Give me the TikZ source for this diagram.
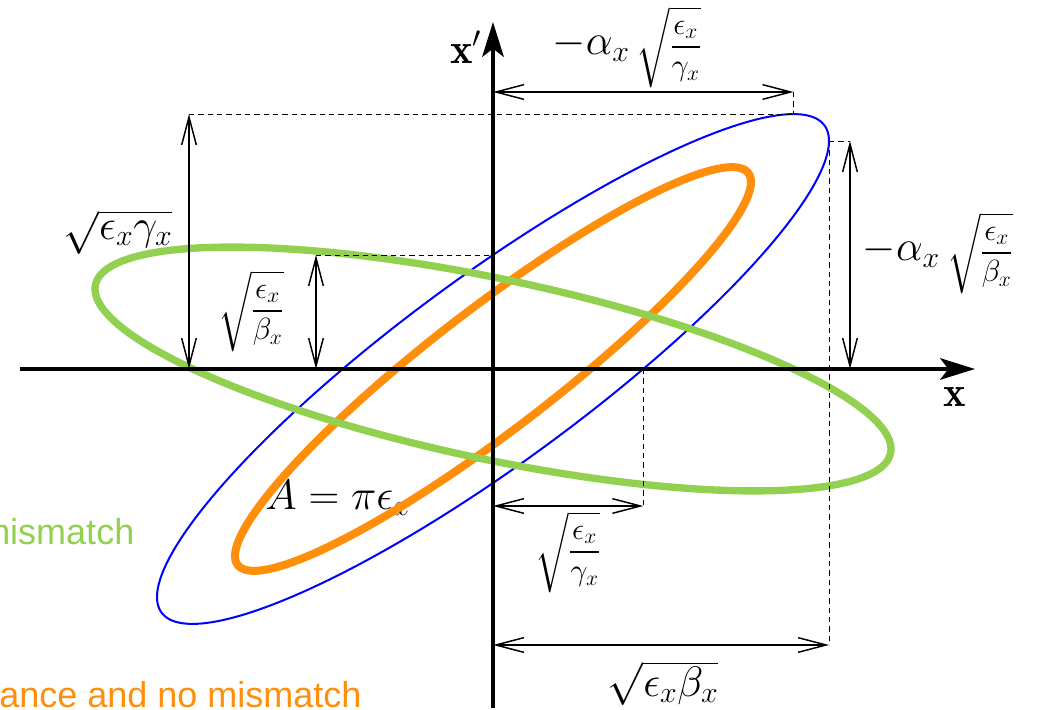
\RequirePackage{fix-cm}
\documentclass[tikz,border=0pt]{standalone}
\usepackage{amsmath}
\usepackage{fontspec}
\newfontfamily\notefont{Liberation Sans}
\usetikzlibrary{arrows.meta,positioning}
\definecolor{blueE}{RGB}{0,0,255}
\definecolor{orangeE}{RGB}{255,143,10}
\definecolor{greenE}{RGB}{146,208,80}
\newcommand{\rootfrac}[2]{\sqrt{\mbox{\fontsize{23}{28}\selectfont$\displaystyle\frac{#1}{#2}$}}}
\begin{document}
\begin{tikzpicture}[x=0.75pt,y=0.75pt,
  axis/.style={line width=3.4pt,-{Stealth[length=26pt,width=16pt,inset=6pt]}},
  dim/.style={line width=1.1pt,{Straight Barb[length=21pt,width=11pt]}-{Straight Barb[length=21pt,width=11pt]}},
  guide/.style={line width=0.7pt,dash pattern=on 4pt off 3pt},
  lbl/.style={font=\fontsize{32}{38}\selectfont,inner sep=0pt},
  note/.style={font=\notefont\fontsize{27}{32}\selectfont,inner sep=0pt,anchor=west}]
\useasboundingbox (-493,-341) rectangle (550,369);

\node[note,text=greenE] (mis) at (-513,-163) {mismatch};
\node[note,text=orangeE] (nomis) at (-494,-326) {ance and no mismatch};
\node[lbl] (area) at (-155,-129) {$A=\pi\epsilon_x$};

\draw[blueE,line width=1.5pt] plot[domain=0:357,samples=120,smooth cycle,variable=\t]
  ({336*cos(\t)},{114*(2*cos(\t)-sin(\t))});
\draw[orangeE,line width=6pt] plot[domain=0:357,samples=120,smooth cycle,variable=\t]
  ({258*cos(\t)},{187*cos(\t)-76*sin(\t)});
\draw[greenE,line width=5.5pt] plot[domain=0:357,samples=120,smooth cycle,variable=\t]
  ({398*cos(\t)},{-80*cos(\t)+92*sin(\t)});

\coordinate (O) at (0,0);
\coordinate (xL) at (-473,0);
\coordinate (xR) at (482,0);
\coordinate (yB) at (0,-339);
\coordinate (yT) at (0,347);
\coordinate (top) at (300.5,254.9);
\coordinate (right) at (336,228);
\coordinate (xcut) at (150.3,0);
\coordinate (ycut) at (0,114);
\coordinate (topA) at (0,277);
\coordinate (topB) at (300.5,277);
\coordinate (leftA) at (-304,254.9);
\coordinate (leftB) at (-304,0);
\coordinate (innA) at (-177,114);
\coordinate (innB) at (-177,0);
\coordinate (rgtA) at (357,228);
\coordinate (rgtB) at (357,0);
\coordinate (botA) at (0,-137);
\coordinate (botB) at (150.3,-137);
\coordinate (lowA) at (0,-276);
\coordinate (lowB) at (336,-276);

\draw[axis] (xL)--(xR);
\draw[axis] (yB)--(yT);
\node[lbl] (xlab) at (462,-28) {$\mathbf{x}$};
\node[lbl] (ylab) at (-27,322) {$\mathbf{x}'$};

\draw[guide] (leftA)--(top);
\draw[guide] (topB)--(top);
\draw[guide] (right)--(rgtA);
\draw[guide] (right)--(lowB);
\draw[guide] (innA)--(ycut);
\draw[guide] (xcut)--(botB);

\draw[dim] (topA)--(topB);
\draw[dim] (leftA)--(leftB);
\draw[dim] (innA)--(innB);
\draw[dim] (rgtA)--(rgtB);
\draw[dim] (botA)--(botB);
\draw[dim] (lowA)--(lowB);

\node[lbl] (topdim) at (134,322) {$\displaystyle-\alpha_x\,\rootfrac{\epsilon_x}{\gamma_x}$};
\node[lbl] (leftdim) at (-375,137) {$\sqrt{\epsilon_x\gamma_x}$};
\node[lbl] (inndim) at (-242,58) {$\displaystyle\rootfrac{\epsilon_x}{\beta_x}$};
\node[lbl] (rgtdim) at (445,116) {$\displaystyle-\alpha_x\,\rootfrac{\epsilon_x}{\beta_x}$};
\node[lbl] (botdim) at (75,-183) {$\displaystyle\rootfrac{\epsilon_x}{\gamma_x}$};
\node[lbl] (lowdim) at (170,-314) {$\sqrt{\epsilon_x\beta_x}$};
\end{tikzpicture}
\end{document}
